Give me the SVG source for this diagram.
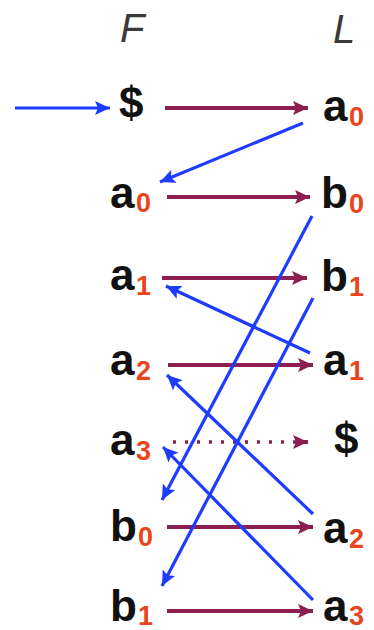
<svg xmlns="http://www.w3.org/2000/svg" width="374" height="630" viewBox="0 0 374 630">
<defs>
<style>
.hdr{font-family:"Liberation Sans",Arial,sans-serif;font-style:italic;font-size:40px;fill:#3a3a3a}
.m{font-family:"Liberation Sans",Arial,sans-serif;font-weight:bold;font-size:44px;fill:#111}
.s{font-family:"Liberation Sans",Arial,sans-serif;font-size:27px;font-weight:bold;fill:#e8451c}
.red{stroke:#8c1f50;stroke-width:4;fill:none}
.dot{stroke:#8c1f50;stroke-width:3.5;fill:none;stroke-dasharray:3 9}
.blue{stroke:#1e3cff;stroke-width:3.2;fill:none}
</style>
<marker id="ar" markerUnits="userSpaceOnUse" markerWidth="16" markerHeight="14" refX="15" refY="7" orient="auto">
<path d="M0,0 L15,7 L0,14 L3,7 Z" fill="#8c1f50"/>
</marker>
<marker id="ab" markerUnits="userSpaceOnUse" markerWidth="16" markerHeight="14" refX="15" refY="7" orient="auto">
<path d="M0,0 L15,7 L0,14 L3,7 Z" fill="#1e3cff"/>
</marker>
</defs>
<rect width="374" height="630" fill="#fff"/>
<g id="headers">
<text class="hdr" x="120" y="42">F</text>
<text class="hdr" x="333" y="43">L</text>
</g>
<g id="F-col">
<g id="F0"><text class="m" x="119" y="118">$</text></g>
<g id="F1"><text class="m" x="110" y="208">a</text><text class="s" x="136" y="212">0</text></g>
<g id="F2"><text class="m" x="110" y="290">a</text><text class="s" x="136" y="295">1</text></g>
<g id="F3"><text class="m" x="110" y="375">a</text><text class="s" x="136" y="380">2</text></g>
<g id="F4"><text class="m" x="110" y="455">a</text><text class="s" x="136" y="460">3</text></g>
<g id="F5"><text class="m" x="110" y="541">b</text><text class="s" x="138" y="546">0</text></g>
<g id="F6"><text class="m" x="110" y="621">b</text><text class="s" x="138" y="625">1</text></g>
</g>
<g id="L-col">
<g id="L0"><text class="m" x="323" y="121">a</text><text class="s" x="349" y="126">0</text></g>
<g id="L1"><text class="m" x="321" y="208">b</text><text class="s" x="349" y="213">0</text></g>
<g id="L2"><text class="m" x="321" y="291">b</text><text class="s" x="349" y="296">1</text></g>
<g id="L3"><text class="m" x="323" y="375">a</text><text class="s" x="349" y="380">1</text></g>
<g id="L4"><text class="m" x="334" y="454">$</text></g>
<g id="L5"><text class="m" x="323" y="543">a</text><text class="s" x="349" y="548">2</text></g>
<g id="L6"><text class="m" x="323" y="621">a</text><text class="s" x="349" y="625">3</text></g>
</g>
<g id="connectors">
<line class="red" x1="165" y1="108" x2="308" y2="108" marker-end="url(#ar)"/>
<line class="red" x1="167" y1="197" x2="310" y2="197" marker-end="url(#ar)"/>
<line class="red" x1="162" y1="278" x2="307" y2="278" marker-end="url(#ar)"/>
<line class="red" x1="168" y1="365" x2="313" y2="365" marker-end="url(#ar)"/>
<line class="dot" x1="173" y1="442" x2="296" y2="442"/>
<line class="red" x1="296" y1="442" x2="308" y2="442" marker-end="url(#ar)" stroke-width="0.1"/>
<line class="red" x1="167" y1="527" x2="313" y2="527" marker-end="url(#ar)"/>
<line class="red" x1="167" y1="611" x2="313" y2="611" marker-end="url(#ar)"/>
<line class="blue" x1="15" y1="108" x2="110" y2="108" marker-end="url(#ab)"/>
<line class="blue" x1="303" y1="123" x2="160" y2="182" marker-end="url(#ab)"/>
<line class="blue" x1="312" y1="216" x2="162" y2="500" marker-end="url(#ab)"/>
<line class="blue" x1="313" y1="298" x2="162" y2="586" marker-end="url(#ab)"/>
<line class="blue" x1="310" y1="353" x2="166" y2="286" marker-end="url(#ab)"/>
<line class="blue" x1="313" y1="514" x2="167" y2="375" marker-end="url(#ab)"/>
<line class="blue" x1="313" y1="600" x2="163" y2="447" marker-end="url(#ab)"/>
</g>
</svg>
